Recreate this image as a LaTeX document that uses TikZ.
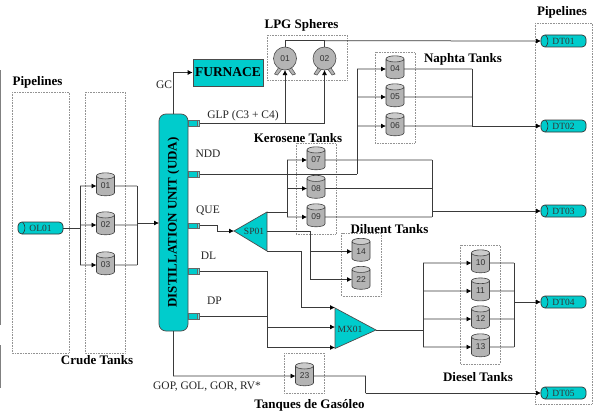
\documentclass[tikz,border=0pt]{standalone}
\usepackage{fontspec}
\setmainfont{Liberation Serif}
\setsansfont{Liberation Sans}
\usetikzlibrary{arrows.meta,shapes.geometric}
\definecolor{teal1}{HTML}{00CCCC}
\definecolor{tankgray}{HTML}{B4B4B4}
\definecolor{wirec}{HTML}{3A3A3A}
\tikzset{
  wire/.style={draw=wirec,line width=.75pt},
  flow/.style={wire,-{Latex[length=5pt,width=5pt,black]}},
  groupbox/.style={draw=gray!85,densely dotted,line width=.6pt,fill=none},
  title/.style={font=\fontsize{13}{13}\selectfont\bfseries,inner sep=0pt},
  stream/.style={font=\fontsize{11.5}{12}\selectfont,text=black!85,inner sep=0pt},
  tank/.style={cylinder,shape border rotate=90,aspect=.65,draw=black!75,line width=.6pt,
    cylinder uses custom fill,cylinder body fill=tankgray,cylinder end fill=tankgray!70,
    minimum width=18pt,minimum height=23pt,inner sep=0pt,outer sep=0pt,
    font=\sffamily\fontsize{8.5}{9}\selectfont,text=black!80},
  sphere/.style={circle,draw=black!70,line width=.6pt,fill=tankgray,minimum size=23pt,inner sep=0pt,outer sep=0pt,
    font=\sffamily\fontsize{8.5}{9}\selectfont,text=black!80},
  pipe/.style={draw=black!80,line width=.7pt,fill=teal1,rounded corners=4pt,minimum height=12pt,inner sep=0pt,outer sep=0pt,
    font=\fontsize{9.5}{10}\selectfont,text=black!80,
    path picture={\draw[black!80,line width=.6pt]
      ([xshift=4.5pt]path picture bounding box.north west) to[bend left=45]
      ([xshift=4.5pt]path picture bounding box.south west);}},
  nozzle/.style={draw=black!60,line width=.5pt,fill=teal1,minimum width=11pt,minimum height=5.5pt,inner sep=0pt,outer sep=0pt},
  proc/.style={draw=black!70,line width=.7pt,fill=teal1},
}
\begin{document}
\begin{tikzpicture}[x=1pt,y=-1pt]
\useasboundingbox (0,0) rectangle (596,412);
\fill[white] (0,0) rectangle (596,412);
% window edge
\draw[gray,line width=1pt] (0.5,70) -- (0.5,325) (0.5,345) -- (0.5,388);
% group boxes
\draw[groupbox] (12,92) rectangle (69,353);
\draw[groupbox] (85,92) rectangle (125,353);
\draw[groupbox] (267,35) rectangle (347,80);
\draw[groupbox] (375,52) rectangle (415,143);
\draw[groupbox] (296,143) rectangle (336,234);
\draw[groupbox] (341.5,233) rectangle (381,296);
\draw[groupbox] (460,245) rectangle (500,364);
\draw[groupbox] (284,353) rectangle (324.5,393);
\draw[groupbox] (535,23) rectangle (592,404);
% titles
\node[title] (tpl) at (37.5,82) {Pipelines};
\node[title] (tct) at (97,360) {Crude Tanks};
\node[title] (tlpg) at (301.5,25) {LPG Spheres};
\node[title] (tnt) at (463,59) {Naphta Tanks};
\node[title] (tkt) at (298,138.5) {Kerosene Tanks};
\node[title] (tdil) at (389.5,229) {Diluent Tanks};
\node[title] (tdie) at (478,377) {Diesel Tanks};
\node[title] (tgas) at (309.5,405) {Tanques de Gasóleo};
\node[title] (tpr) at (562,12) {Pipelines};
% stream labels
\node[stream] (lgc) at (164,85) {GC};
\node[stream] (lglp) at (243,116) {GLP (C3 + C4)};
\node[stream] (lndd) at (208,153.5) {NDD};
\node[stream] (lque) at (208,210.5) {QUE};
\node[stream] (ldl) at (208.5,256) {DL};
\node[stream] (ldp) at (214.5,301) {DP};
\node[stream] (lgop) at (207,386.5) {GOP, GOL, GOR, RV*};
% pipelines
\node[pipe,minimum width=45pt] (ol01) at (40.5,228) {OL01};
\foreach \n/\y in {DT01/41,DT02/126,DT03/211,DT04/302,DT05/393}
  \node[pipe,minimum width=45pt] (\n) at (563.5,\y) {\n};
% tanks
\foreach \n/\x/\y in {01/105.5/186,02/105.5/225,03/105.5/265,04/395/69,05/395/97,06/395/126,
  07/316/160,08/316/188.5,09/316/217,14/361/251.5,22/361/279.5,10/480.5/263,11/480.5/291,12/480.5/319,13/480.5/347,23/304.5/376}
  \node[tank] (t\n) at (\x,\y) {\n};
% distillation column
\node[proc,rotate=90,rounded corners=7pt,minimum width=217pt,minimum height=29pt,inner sep=0pt,
  font=\fontsize{13}{13}\selectfont\bfseries] (uda) at (173.5,222.5) {DISTILLATION UNIT (UDA)};
\foreach \i/\y in {1/123,2/174,3/225.5,4/271,5/316}{
  \node[nozzle] (noz\i) at (194,\y) {};
  \draw[black!60,line width=.5pt,fill=teal1!60] (197,\y-2.75) rectangle (199.5,\y+2.75);
}
% furnace
\node[proc,minimum width=70pt,minimum height=27pt,inner sep=0pt,font=\fontsize{13.5}{14}\selectfont\bfseries] (furn) at (228,72.5) {FURNACE};
% spheres
\foreach \n/\x in {01/285,02/324.5}{
  \draw[draw=black!70,line width=.5pt,fill=tankgray] (\x-6,67) -- (\x-10.5,74) -- (\x-7.5,75) -- (\x-3,69) -- cycle;
  \draw[draw=black!70,line width=.5pt,fill=tankgray] (\x+6,67) -- (\x+10.5,74) -- (\x+7.5,75) -- (\x+3,69) -- cycle;
  \node[sphere] (s\n) at (\x,58.5) {\n};
}
% triangles
\draw[proc] (234,231) -- (267,212) -- (267,251) -- cycle;
\node[inner sep=0pt,font=\fontsize{9.5}{10}\selectfont,text=black!80] (sp01) at (254,231.5) {SP01};
\coordinate (sptip) at (234,231);
\coordinate (spa) at (267,212);
\coordinate (spb) at (267,231);
\coordinate (spc) at (267,251);
\draw[proc] (335,308) -- (376,330) -- (335,348.5) -- cycle;
\node[inner sep=0pt,font=\fontsize{9.5}{10}\selectfont,text=black!80] (mx01) at (350,329.5) {MX01};
\coordinate (mxa) at (335,307.5);
\coordinate (mxb) at (335,327);
\coordinate (mxc) at (335,347.5);
\coordinate (mxout) at (376,330);
% crude
\draw[wire] (ol01.east) -- (80,228);
\draw[wire] (80,186) -- (80,265);
\foreach \n/\y in {01/186,02/225,03/265} \draw[flow] (80,\y) -- (t\n.west);
\foreach \n/\y in {01/186,02/225,03/265} \draw[wire] (t\n.east) -- (137,\y);
\draw[wire] (137,186) -- (137,265);
\draw[flow] (137,223) -- (159,223);
% GC
\draw[flow] (173.5,114) |- (furn.west);
% GLP
\draw[wire] (noz1.east) -- (324.5,123);
\draw[flow] (285,123) -- (s01.south);
\draw[flow] (324.5,123) -- (s02.south);
\draw[wire] (s01.north) -- (285,40.7) -- (324.5,40.7);
\draw[wire] (s02.north) -- (324.5,40.7);
\draw[flow] (324.5,40.7) -- (DT01.west);
% NDD
\draw[wire] (noz2.east) -- (357,174);
\draw[wire] (357,174) -- (357,69);
\foreach \n/\y in {04/69,05/97,06/126} \draw[flow] (357,\y) -- (t\n.west);
\foreach \n/\y in {04/69,05/97,06/126} \draw[wire] (t\n.east) -- (472,\y);
\draw[wire] (472,69) -- (472,126);
\draw[flow] (472,126) -- (DT02.west);
% QUE
\draw[flow] (noz3.east) -- (217,225.5) -- (217,231) -- (sptip);
\draw[wire] (spa) -- (287,212);
\draw[wire] (287,160) -- (287,217);
\foreach \n/\y in {07/160,08/188.5,09/217} \draw[flow] (287,\y) -- (t\n.west);
\foreach \n/\y in {07/160,08/188.5,09/217} \draw[wire] (t\n.east) -- (432,\y);
\draw[wire] (432,160) -- (432,217);
\draw[flow] (432,211) -- (DT03.west);
% diluent
\draw[wire] (spb) -- (310,231) -- (310,279.5);
\draw[flow] (310,251.5) -- (t14.west);
\draw[flow] (310,279.5) -- (t22.west);
\draw[wire] (spc) -- (301,251) -- (301,307.5);
\draw[flow] (301,307.5) -- (mxa);
% DL, DP
\draw[wire] (noz4.east) -- (267,271) -- (267,347.5);
\draw[wire] (noz5.east) -- (267,316);
\draw[flow] (267,327) -- (mxb);
\draw[flow] (267,347.5) -- (mxc);
% diesel
\draw[wire] (mxout) -- (423,330);
\draw[wire] (423,263) -- (423,347);
\foreach \n/\y in {10/263,11/291,12/319,13/347} \draw[flow] (423,\y) -- (t\n.west);
\foreach \n/\y in {10/263,11/291,12/319,13/347} \draw[wire] (t\n.east) -- (514,\y);
\draw[wire] (514,263) -- (514,347);
\draw[flow] (514,302) -- (DT04.west);
% gas oil
\draw[flow] (173.5,331) -- (173.5,376) -- (t23.west);
\draw[wire] (t23.east) -- (365.5,376) -- (365.5,393);
\draw[flow] (365.5,393) -- (DT05.west);
\end{tikzpicture}
\end{document}
